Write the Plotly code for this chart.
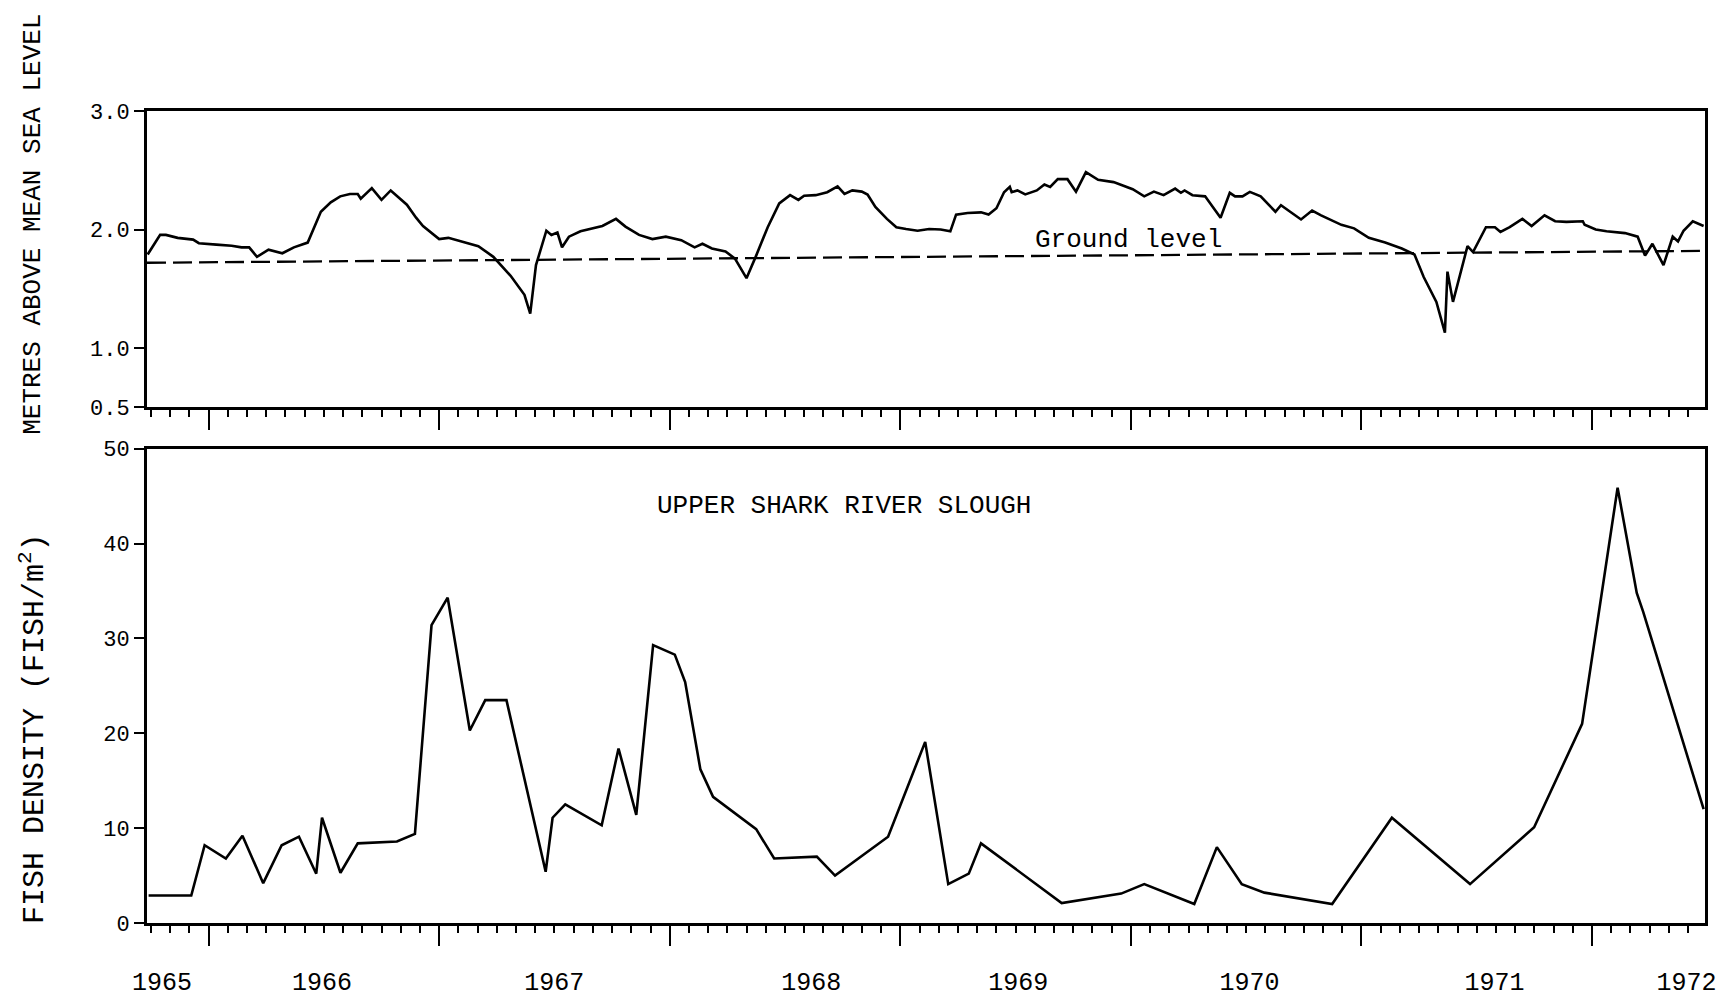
import plotly.graph_objects as go

# ---------------- data ----------------
# Upper panel: water stage (metres above mean sea level)
stage_year = [
    1965.736, 1965.790, 1965.815, 1965.866, 1965.933, 1965.958, 1966.034, 1966.100,
    1966.143, 1966.176, 1966.210, 1966.260, 1966.320, 1966.370, 1966.430, 1966.487,
    1966.530, 1966.571, 1966.613, 1966.647, 1966.660, 1966.708, 1966.750, 1966.790,
    1966.860, 1966.900, 1966.930, 1967.000, 1967.040, 1967.110, 1967.170, 1967.235,
    1967.310, 1967.370, 1967.395, 1967.420, 1967.465, 1967.487, 1967.513, 1967.533,
    1967.563, 1967.613, 1967.680, 1967.708, 1967.767, 1967.808, 1967.867, 1967.925,
    1967.983, 1968.050, 1968.108, 1968.142, 1968.183, 1968.242, 1968.283, 1968.333,
    1968.375, 1968.425, 1968.475, 1968.522, 1968.558, 1968.583, 1968.633, 1968.683,
    1968.728, 1968.758, 1968.792, 1968.833, 1968.858, 1968.892, 1968.942, 1968.983,
    1969.025, 1969.075, 1969.125, 1969.175, 1969.217, 1969.242, 1969.292, 1969.350,
    1969.383, 1969.417, 1969.450, 1969.475, 1969.483, 1969.508, 1969.542, 1969.592,
    1969.625, 1969.650, 1969.683, 1969.725, 1969.762, 1969.805, 1969.858, 1969.925,
    1970.008, 1970.058, 1970.100, 1970.142, 1970.192, 1970.217, 1970.233, 1970.267,
    1970.322, 1970.389, 1970.429, 1970.452, 1970.484, 1970.516, 1970.563, 1970.627,
    1970.651, 1970.738, 1970.786, 1970.825, 1970.913, 1970.968, 1971.032, 1971.103,
    1971.175, 1971.230, 1971.270, 1971.325, 1971.362, 1971.373, 1971.397, 1971.460,
    1971.484, 1971.540, 1971.579, 1971.603, 1971.643, 1971.698, 1971.738, 1971.794,
    1971.840, 1971.889, 1971.960, 1971.968, 1972.016, 1972.063, 1972.143, 1972.198,
    1972.230, 1972.262, 1972.310, 1972.350, 1972.373, 1972.397, 1972.437, 1972.484,
]
stage_m = [
    1.79, 1.955, 1.955, 1.93, 1.915, 1.885, 1.873, 1.864,
    1.85, 1.85, 1.77, 1.83, 1.80, 1.85, 1.89, 2.15,
    2.23, 2.28, 2.30, 2.30, 2.26, 2.35, 2.25, 2.33,
    2.21, 2.10, 2.03, 1.92, 1.93, 1.89, 1.86, 1.77,
    1.61, 1.45, 1.29, 1.70, 1.99, 1.955, 1.975, 1.85,
    1.94, 1.985, 2.02, 2.03, 2.09, 2.025, 1.955, 1.92,
    1.94, 1.91, 1.85, 1.88, 1.84, 1.815, 1.755, 1.59,
    1.78, 2.02, 2.22, 2.29, 2.25, 2.285, 2.29, 2.315,
    2.365, 2.30, 2.33, 2.32, 2.295, 2.19, 2.09, 2.02,
    2.005, 1.99, 2.005, 2.00, 1.985, 2.126, 2.14, 2.145,
    2.126, 2.18, 2.315, 2.36, 2.315, 2.33, 2.296, 2.33,
    2.38, 2.36, 2.425, 2.425, 2.32, 2.485, 2.42, 2.40,
    2.34, 2.28, 2.32, 2.29, 2.345, 2.31, 2.33, 2.29,
    2.28, 2.10, 2.31, 2.28, 2.28, 2.318, 2.28, 2.15,
    2.205, 2.085, 2.16, 2.12, 2.04, 2.01, 1.93, 1.89,
    1.84, 1.79, 1.60, 1.39, 1.13, 1.645, 1.39, 1.86,
    1.81, 2.02, 2.02, 1.98, 2.02, 2.09, 2.03, 2.12,
    2.07, 2.065, 2.07, 2.04, 2.00, 1.985, 1.97, 1.94,
    1.78, 1.88, 1.70, 1.94, 1.90, 1.99, 2.07, 2.03,
]
ground_year = [1965.733, 1972.49]
ground_m = [1.72, 1.82]

# Lower panel: fish density (fish / m^2)
fish_year = [
    1965.740, 1965.925, 1965.983, 1966.075, 1966.147, 1966.237, 1966.317, 1966.392,
    1966.467, 1966.492, 1966.572, 1966.647, 1966.817, 1966.895, 1966.967, 1967.037,
    1967.133, 1967.200, 1967.292, 1967.462, 1967.492, 1967.547, 1967.705, 1967.778,
    1967.855, 1967.928, 1968.022, 1968.067, 1968.133, 1968.188, 1968.375, 1968.453,
    1968.638, 1968.717, 1968.947, 1969.108, 1969.208, 1969.297, 1969.350, 1969.700,
    1969.958, 1970.058, 1970.275, 1970.373, 1970.481, 1970.579, 1970.873, 1971.132,
    1971.471, 1971.749, 1971.957, 1972.111, 1972.194, 1972.222, 1972.484,
]
fish_density = [
    2.9, 2.9, 8.2, 6.8, 9.2, 4.2, 8.2, 9.1,
    5.2, 11.1, 5.3, 8.4, 8.6, 9.4, 31.4, 34.3,
    20.3, 23.5, 23.5, 5.4, 11.1, 12.5, 10.3, 18.4,
    11.4, 29.3, 28.3, 25.4, 16.2, 13.3, 9.9, 6.8,
    7.0, 5.0, 9.1, 19.1, 4.1, 5.2, 8.4, 2.1,
    3.1, 4.1, 2.0, 8.0, 4.1, 3.2, 2.0, 11.1,
    4.1, 10.1, 21.0, 45.9, 34.8, 32.8, 12.0,
]

# Axis labels
year_label_pos = [1965.798, 1966.492, 1967.499, 1968.614, 1969.512, 1970.514, 1971.577, 1972.410]
year_labels = ["1965", "1966", "1967", "1968", "1969", "1970", "1971", "1972"]
stage_ticks = [0.5, 1.0, 2.0, 3.0]
stage_tick_text = ["0.5", "1.0", "2.0", "3.0"]
density_ticks = [0, 10, 20, 30, 40, 50]
density_tick_text = ["0", "10", "20", "30", "40", "50"]

# ---------------- figure ----------------
FONT = "Liberation Mono, Courier New, monospace"
X_RANGE = [1965.733, 1972.49]
major_ticks = list(range(1966, 1973))
minor_ticks = [1965 + m / 12 for m in range(9, 90)]

fig = go.Figure()
fig.add_trace(go.Scatter(x=stage_year, y=stage_m, mode="lines",
                         line=dict(color="black", width=2.6),
                         xaxis="x", yaxis="y", showlegend=False))
fig.add_trace(go.Scatter(x=ground_year, y=ground_m, mode="lines",
                         line=dict(color="black", width=2.3, dash="19px,7px"),
                         xaxis="x", yaxis="y", showlegend=False))
fig.add_trace(go.Scatter(x=fish_year, y=fish_density, mode="lines",
                         line=dict(color="black", width=2.6),
                         xaxis="x2", yaxis="y2", showlegend=False))
# invisible trace to activate the label overlay axis
fig.add_trace(go.Scatter(x=[year_label_pos[0]], y=[0], mode="markers",
                         marker=dict(opacity=0), hoverinfo="skip",
                         xaxis="x3", yaxis="y2", showlegend=False))

line_style = dict(showline=True, linecolor="black", linewidth=3, mirror=True,
                  showgrid=False, zeroline=False, automargin=False)
x_style = dict(line_style, range=X_RANGE, tickmode="array", tickvals=major_ticks,
               ticks="outside", ticklen=20, tickwidth=2, tickcolor="black",
               showticklabels=False,
               minor=dict(tickmode="array", tickvals=minor_ticks, ticks="outside",
                          ticklen=7, tickwidth=2, tickcolor="black"))

fig.update_layout(
    width=1726, height=1003, autosize=False,
    margin=dict(l=139, r=29, t=103, b=88),
    paper_bgcolor="white", plot_bgcolor="white",
    font=dict(family=FONT, color="black", size=21),
    xaxis=dict(x_style, anchor="y", domain=[0, 1]),
    yaxis=dict(line_style, anchor="x", domain=[0.635, 1.0], range=[0.5, 3.0],
               tickmode="array", tickvals=stage_ticks, ticktext=stage_tick_text,
               ticks="outside", ticklen=10, tickwidth=2, tickcolor="black",
               tickfont=dict(size=22, family=FONT)),
    xaxis2=dict(x_style, anchor="y2", domain=[0, 1]),
    yaxis2=dict(line_style, anchor="x2", domain=[0.0, 0.584], range=[0, 50],
                tickmode="array", tickvals=density_ticks, ticktext=density_tick_text,
                ticks="outside", ticklen=10, tickwidth=2, tickcolor="black",
                tickfont=dict(size=22, family=FONT)),
    xaxis3=dict(overlaying="x2", anchor="y2", side="bottom", range=X_RANGE,
                showline=False, showgrid=False, zeroline=False, automargin=False,
                tickmode="array", tickvals=year_label_pos, ticktext=year_labels,
                ticks="outside", ticklen=36, tickcolor="rgba(0,0,0,0)",
                tickfont=dict(size=25, family=FONT)),
    annotations=[
        dict(text="METRES ABOVE MEAN SEA LEVEL", xref="paper", yref="paper",
             x=-0.0732, y=0.861, xanchor="center", yanchor="middle",
             textangle=-90, showarrow=False, font=dict(size=26, family=FONT)),
        dict(text="FISH DENSITY (FISH/m<sup>2</sup>)", xref="paper", yref="paper",
             x=-0.0732, y=0.240, xanchor="center", yanchor="middle",
             textangle=-90, showarrow=False, font=dict(size=30, family=FONT)),
        dict(text="Ground level", xref="x", yref="y", x=1969.99, y=1.91,
             xanchor="center", yanchor="middle", showarrow=False,
             font=dict(size=26, family=FONT)),
        dict(text="UPPER SHARK RIVER SLOUGH", xref="x2", yref="y2", x=1968.757, y=44.0,
             xanchor="center", yanchor="middle", showarrow=False,
             font=dict(size=26, family=FONT)),
    ],
)

fig.write_html("out.html")
